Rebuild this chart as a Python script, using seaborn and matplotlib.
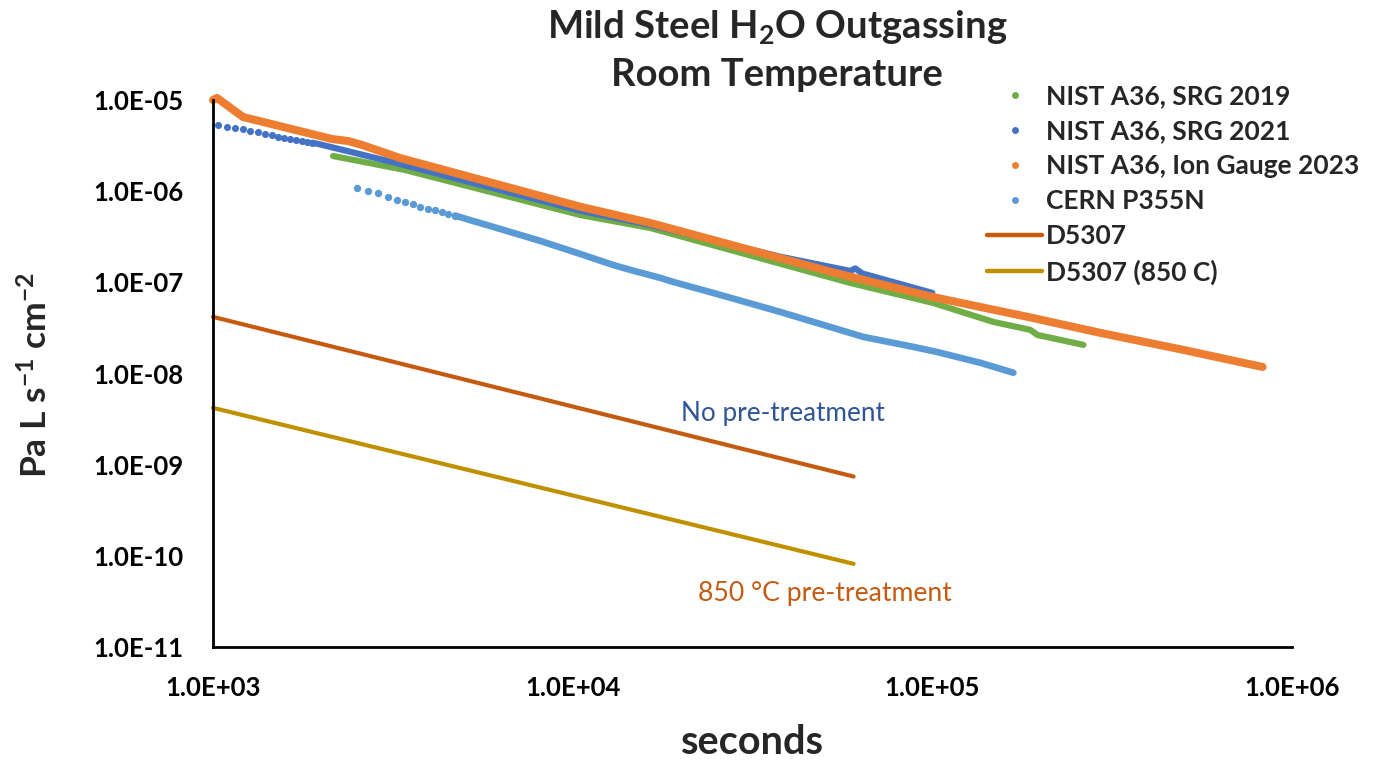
import numpy as np
import pandas as pd
import matplotlib
matplotlib.use("Agg")
import matplotlib.pyplot as plt
import seaborn as sns
from matplotlib.lines import Line2D
from matplotlib.ticker import FixedLocator, FuncFormatter, NullLocator

sns.set_style("white")
plt.rcParams['font.family'] = ['Lato', 'DejaVu Sans']
plt.rcParams['font.weight'] = 'bold'
plt.rcParams['mathtext.fontset'] = 'custom'
plt.rcParams['mathtext.rm'] = 'Lato:bold'
plt.rcParams['mathtext.bf'] = 'Lato:bold'
plt.rcParams['mathtext.it'] = 'Lato:bold'

# ---------------- data ----------------
srg2019_t = [2157, 3420, 10490, 16430, 59140, 100600, 147800, 187300, 195900, 263000]
srg2019_q = [2.43e-6, 1.708e-6, 5.48e-7, 3.95e-7, 9.85e-8, 5.94e-8, 3.68e-8, 3.01e-8, 2.65e-8, 2.06e-8]

srg2021_dots_t = [1030, 1092, 1151, 1209, 1268, 1337, 1395, 1457, 1514, 1579, 1638, 1698, 1765, 1823, 1882]
srg2021_dots_q = [5.32e-6, 5.10e-6, 4.89e-6, 4.78e-6, 4.61e-6, 4.42e-6, 4.24e-6, 4.13e-6, 3.96e-6,
                  3.86e-6, 3.73e-6, 3.64e-6, 3.55e-6, 3.49e-6, 3.40e-6]
srg2021_t = [1882, 1959, 3313, 10490, 16430, 37780, 59140, 61060, 63870, 100000]
srg2021_q = [3.40e-6, 3.30e-6, 1.987e-6, 6.11e-7, 4.26e-7, 1.91e-7, 1.333e-7, 1.42e-7, 1.25e-7, 7.65e-8]

ion2023_t = [1000, 1026, 1212, 2143, 2374, 2597, 3313, 10490, 16430, 52030, 100000, 187300, 293300, 499000, 828000]
ion2023_q = [1.0e-5, 1.052e-5, 6.51e-6, 3.73e-6, 3.55e-6, 3.21e-6, 2.31e-6, 6.76e-7, 4.48e-7, 1.31e-7,
             6.92e-8, 4.12e-8, 2.79e-8, 1.815e-8, 1.18e-8]

cern_dots_t = [2520, 2690, 2880, 3070, 3240, 3420, 3590, 3770, 3960, 4150, 4330, 4510, 4710]
cern_dots_q = [1.076e-6, 1.005e-6, 9.48e-7, 8.57e-7, 8.01e-7, 7.67e-7, 7.18e-7, 6.76e-7, 6.38e-7,
               6.22e-7, 5.96e-7, 5.58e-7, 5.39e-7]
cern_t = [4710, 6285, 8120, 10490, 12960, 14450, 17510, 19040, 24600, 37800, 64300, 88500, 103200, 136000, 168000]
cern_q = [5.39e-7, 3.85e-7, 2.85e-7, 2.05e-7, 1.55e-7, 1.37e-7, 1.12e-7, 1.01e-7, 7.65e-8, 4.73e-8,
          2.52e-8, 1.96e-8, 1.72e-8, 1.31e-8, 1.02e-8]

d5307_t = [1000, 60400]
d5307_q = [4.18e-8, 7.41e-10]
d5307_850_t = [1000, 60400]
d5307_850_q = [4.2e-9, 8.17e-11]

labels = ["NIST A36, SRG 2019", "NIST A36, SRG 2021", "NIST A36, Ion Gauge 2023",
          "CERN P355N", "D5307", "D5307 (850 C)"]
colors = ["#70AD47", "#4472C4", "#ED7D31", "#5B9BD5", "#C55A11", "#BF9000"]
x_ticks = [1e3, 1e4, 1e5, 1e6]
y_ticks = [1e-11, 1e-10, 1e-9, 1e-8, 1e-7, 1e-6, 1e-5]

# ---------------- figure ----------------
W, H = 1386, 761
fig = plt.figure(figsize=(W / 100, H / 100), dpi=100)
ax = fig.add_axes([213 / W, 1 - 647 / H, (1292 - 213) / W, (647 - 100) / H])
ax.set_xscale('log')
ax.set_yscale('log')


def line(x, y, c, lw):
    sns.lineplot(x=x, y=y, ax=ax, color=c, linewidth=lw, estimator=None, sort=False, legend=False)
    ln = ax.lines[-1]
    ln.set_solid_capstyle('round')
    ln.set_solid_joinstyle('round')
    ln.set_clip_on(False)


def dots(x, y, c, s):
    sns.scatterplot(x=x, y=y, ax=ax, color=c, s=s, linewidth=0, legend=False, clip_on=False)


line(srg2019_t, srg2019_q, colors[0], 4.5)
dots(srg2021_dots_t, srg2021_dots_q, colors[1], 26)
line(srg2021_t, srg2021_q, colors[1], 4.5)
line(ion2023_t, ion2023_q, colors[2], 5.8)
dots(cern_dots_t, cern_dots_q, colors[3], 28)
line(cern_t, cern_q, colors[3], 4.8)
line(d5307_t, d5307_q, colors[4], 3)
line(d5307_850_t, d5307_850_q, colors[5], 3)

ax.set_xlim(x_ticks[0], x_ticks[-1])
ax.set_ylim(y_ticks[0], y_ticks[-1])
ax.xaxis.set_major_locator(FixedLocator(x_ticks))
ax.yaxis.set_major_locator(FixedLocator(y_ticks))
ax.xaxis.set_minor_locator(NullLocator())
ax.yaxis.set_minor_locator(NullLocator())
fmt = FuncFormatter(lambda v, p: f"{v:.1E}")
ax.xaxis.set_major_formatter(fmt)
ax.yaxis.set_major_formatter(fmt)
ax.tick_params(axis='both', direction='in', length=7, width=2, colors='black', labelsize=18.5)
ax.tick_params(axis='x', pad=21)
ax.tick_params(axis='y', pad=21)
for s in ['top', 'right']:
    ax.spines[s].set_visible(False)
for s in ['left', 'bottom']:
    ax.spines[s].set_linewidth(2)
    ax.spines[s].set_color('black')
ax.set_xlabel('')
ax.set_ylabel('')

# titles and axis labels
fig.text(777 / W, 1 - 27 / H, r"Mild Steel H$_{\mathbf{2}}$O Outgassing", ha='center', va='center',
         fontsize=27.5, fontweight='bold')
fig.text(777 / W, 1 - 75 / H, "Room Temperature", ha='center', va='center', fontsize=27.5, fontweight='bold')
fig.text(752 / W, 1 - 742 / H, "seconds", ha='center', va='center', fontsize=28.5, fontweight='bold')
fig.text(36 / W, 1 - 375 / H, r"Pa L s$^{\mathbf{-1}}$ cm$^{\mathbf{-2}}$", ha='center', va='center',
         rotation=90, fontsize=25.5, fontweight='bold')

# annotations
ax.text(783 / W, 1 - 414 / H, "No pre-treatment", transform=fig.transFigure, ha='center', va='center',
        fontsize=18.8, fontweight='normal', color='#2F5597')
ax.text(825 / W, 1 - 593 / H, "850 °C pre-treatment", transform=fig.transFigure, ha='center', va='center',
        fontsize=19.2, fontweight='normal', color='#C55A11')

# legend
handles = []
for i, (lab, c) in enumerate(zip(labels, colors)):
    if i < 4:
        handles.append(Line2D([], [], linestyle='none', marker='o', markersize=5, markeredgewidth=0,
                              color=c, label=lab))
    else:
        handles.append(Line2D([], [], color=c, linewidth=3.2, solid_capstyle='round', label=lab))
leg = fig.legend(handles=handles, loc='upper left', bbox_to_anchor=(987 / W, 1 - 84 / H),
                 frameon=False, fontsize=19, handlelength=2.1, handletextpad=0.15,
                 labelspacing=0.42, borderpad=0, borderaxespad=0)

fig.savefig("out.png", dpi=100)
